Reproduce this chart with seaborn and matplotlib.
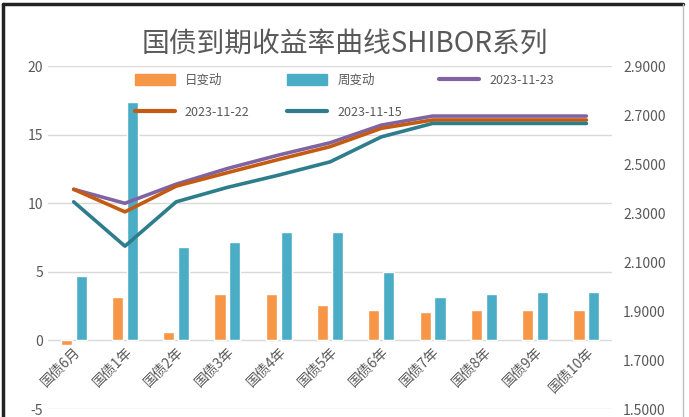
import numpy as np
import pandas as pd
import seaborn as sns
import matplotlib.pyplot as plt
from matplotlib.lines import Line2D
from matplotlib.patches import Patch

sns.set_style("white")
plt.rcParams['font.family'] = ['Noto Sans CJK SC', 'DejaVu Sans']
plt.rcParams['axes.unicode_minus'] = False

terms = ['国债6月', '国债1年', '国债2年', '国债3年', '国债4年', '国债5年',
         '国债6年', '国债7年', '国债8年', '国债9年', '国债10年']
day_chg = [-0.3, 3.2, 0.6, 3.4, 3.4, 2.6, 2.2, 2.05, 2.2, 2.2, 2.2]
week_chg = [4.7, 17.4, 6.8, 7.2, 7.9, 7.9, 5.0, 3.2, 3.4, 3.55, 3.55]
y_1123 = [2.397, 2.340, 2.418, 2.482, 2.537, 2.587, 2.659, 2.696, 2.696, 2.696, 2.696]
y_1122 = [2.397, 2.305, 2.410, 2.465, 2.519, 2.571, 2.646, 2.680, 2.680, 2.680, 2.680]
y_1115 = [2.346, 2.165, 2.346, 2.405, 2.455, 2.509, 2.611, 2.666, 2.666, 2.666, 2.666]

bar_names = ['日变动', '周变动']
bar_colors = ['#F79646', '#4BACC6']
line_names = ['2023-11-23', '2023-11-22', '2023-11-15']
line_colors = ['#8064A2', '#C55A11', '#2E7D8C']

bars = pd.DataFrame({
    'term': terms * 2,
    'value': day_chg + week_chg,
    'kind': [bar_names[0]] * len(terms) + [bar_names[1]] * len(terms),
})
pos = np.arange(len(terms))
lines = pd.DataFrame({
    'pos': np.tile(pos, 3),
    'yield': y_1123 + y_1122 + y_1115,
    'date': np.repeat(line_names, len(terms)),
})

grey = '#595959'
fig = plt.figure(figsize=(6.89, 4.17), dpi=100)
ax = fig.add_axes([0.0697, 0.019, 0.8186, 0.8225])

sns.barplot(data=bars, x='term', y='value', hue='kind', palette=bar_colors,
            width=0.58, gap=0.25, ax=ax, legend=False, saturation=1)
ax.set_ylim(-5, 20)
ax.set_yticks([-5, 0, 5, 10, 15, 20])
ax.set_xlim(-0.5, len(terms) - 0.5)
ax.yaxis.grid(True, color='#D9D9D9', linewidth=1)
ax.set_axisbelow(True)
ax.set_xlabel('')
ax.set_ylabel('')
for s in ax.spines.values():
    s.set_visible(False)
ax.spines['bottom'].set_position(('data', 0))
ax.tick_params(axis='both', length=0, colors=grey, labelsize=10)
ax.tick_params(axis='x', pad=3)
for lab in ax.get_xticklabels():
    lab.set_rotation(45)
    lab.set_ha('right')
    lab.set_rotation_mode('anchor')

ax2 = ax.twinx()
sns.lineplot(data=lines, x='pos', y='yield', hue='date',
             palette=dict(zip(line_names, line_colors)), hue_order=line_names,
             linewidth=2.6, ax=ax2, legend=False)
ax2.set_ylim(1.5, 2.9)
ax2.set_yticks(np.arange(1.5, 2.91, 0.2))
ax2.set_yticklabels([f'{v:.4f}' for v in np.arange(1.5, 2.91, 0.2)])
ax2.set_ylabel('')
for s in ax2.spines.values():
    s.set_visible(False)
ax2.tick_params(axis='y', length=0, colors=grey, labelsize=10, pad=8)

fig.suptitle('国债到期收益率曲线SHIBOR系列', x=0.5, y=0.895, va='center',
             fontsize=20, color=grey)

handles = [Patch(color=bar_colors[0]), Line2D([], [], color=line_colors[1], lw=3),
           Patch(color=bar_colors[1]), Line2D([], [], color=line_colors[2], lw=3),
           Line2D([], [], color=line_colors[0], lw=3)]
labels = [bar_names[0], line_names[1], bar_names[1], line_names[2], line_names[0]]
fig.legend(handles, labels, ncol=3, loc='upper center', bbox_to_anchor=(0.5, 0.85),
           frameon=False, fontsize=9, labelcolor=grey, handlelength=3.2,
           handleheight=0.9, columnspacing=3.0, labelspacing=1.5)

fig.add_artist(Line2D([0.004, 0.004], [0, 0.99], color='#222222', lw=2.5))
fig.add_artist(Line2D([0.004, 0.992], [0.99, 0.99], color='#222222', lw=2.5))
fig.add_artist(Line2D([0.992, 0.992], [0, 0.99], color='#BFBFBF', lw=1))

fig.savefig('out.png', dpi=100)
